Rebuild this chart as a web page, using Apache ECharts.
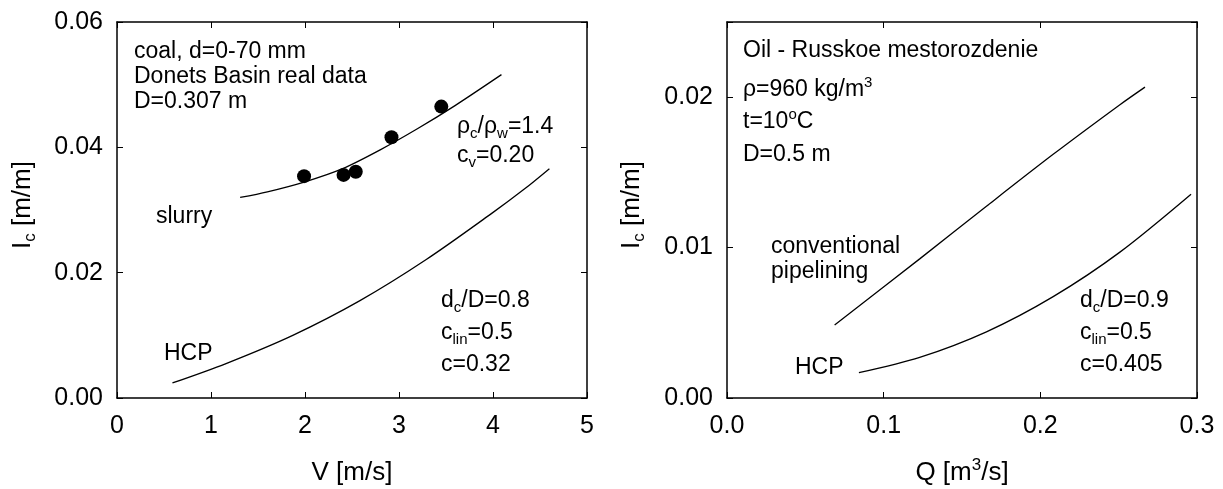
<!DOCTYPE html>
<html><head><meta charset="utf-8">
<script src="https://cdn.jsdelivr.net/npm/echarts@6.0.0/dist/echarts.min.js"></script>
<style>html,body{margin:0;padding:0;background:#fff}#c{width:1223px;height:489px}</style>
</head><body><div id="c"></div>
<script>
// ---- data ----
const slurryV = [1.31, 1.6, 2.0, 2.4, 2.8, 3.2, 3.6, 4.09];
const slurryI = [0.0320, 0.0329, 0.0345, 0.0366, 0.0396, 0.0430, 0.0467, 0.0516];
const hcpLeftV = [0.59, 1.16, 1.87, 2.58, 3.29, 3.99, 4.33, 4.6];
const hcpLeftI = [0.0024, 0.0055, 0.0100, 0.0155, 0.0221, 0.0295, 0.0333, 0.0366];
const measV = [1.99, 2.41, 2.54, 2.92, 3.45];
const measI = [0.0354, 0.0356, 0.0361, 0.0416, 0.0465];
const convQ = [0.0687, 0.123, 0.1656, 0.2082, 0.2508, 0.2668];
const convI = [0.00486, 0.00925, 0.01275, 0.01620, 0.01950, 0.02067];
const hcpRightQ = [0.0842, 0.123, 0.1656, 0.2082, 0.2508, 0.2962];
const hcpRightI = [0.00168, 0.0027, 0.0044, 0.00674, 0.0097, 0.01355];

const FONT = '"Liberation Sans", Arial, sans-serif';
const zip = (a, b) => a.map((v, i) => [v, b[i]]);

const chart = echarts.init(document.getElementById('c'), null, {renderer: 'canvas'});

function axis(gridIndex, position, min, max, interval, showLabel, fmt, isY) {
  return {
    type: 'value', gridIndex, position, min, max, interval,
    axisLine: {show: true, onZero: false, lineStyle: {color: '#000', width: 1.5}},
    axisTick: {show: true, inside: true, length: 6, lineStyle: {color: '#000', width: 1}},
    axisLabel: {show: showLabel, formatter: fmt, color: '#000', fontSize: 25, fontFamily: FONT,
                margin: isY ? 14 : 16, showMinLabel: true, showMaxLabel: true, hideOverlap: false},
    splitLine: {show: false}
  };
}

const fmtInt = v => String(Math.round(v));
const fmt2 = v => v.toFixed(2);
const fmt1 = v => v.toFixed(1);
const fmtR = v => (v > 0.021 ? '' : v.toFixed(2));

const richStyles = {
  n: {fontSize: 23, fontFamily: FONT, color: '#000', verticalAlign: 'middle'},
  s: {fontSize: 15, fontFamily: FONT, color: '#000', verticalAlign: 'middle', padding: [14, 0, 0, 0]},
  p: {fontSize: 15, fontFamily: FONT, color: '#000', verticalAlign: 'middle', padding: [0, 0, 14, 0]},
  t: {fontSize: 26, fontFamily: FONT, color: '#000', verticalAlign: 'middle'},
  ts: {fontSize: 17, fontFamily: FONT, color: '#000', verticalAlign: 'middle', padding: [14, 0, 0, 0]},
  tp: {fontSize: 17, fontFamily: FONT, color: '#000', verticalAlign: 'middle', padding: [0, 0, 16, 0]}
};

function txt(x, y, text, opt) {
  opt = opt || {};
  return {
    type: 'text', x, y, rotation: opt.rot || 0, silent: true,
    style: {
      text, fill: '#000', fontSize: opt.size || 23, fontFamily: FONT,
      textAlign: opt.align || 'left', align: opt.align || 'left',
      textVerticalAlign: 'middle', verticalAlign: 'middle',
      rich: richStyles
    }
  };
}

const labels = [
  txt(134, 52, '{n|coal, d=0-70 mm}'),
  txt(134, 77, '{n|Donets Basin real data}'),
  txt(134, 102, '{n|D=0.307 m}'),
  txt(156, 217, '{n|slurry}'),
  txt(457, 127, '{n|ρ}{s|c}{n|/ρ}{s|w}{n|=1.4}'),
  txt(457, 156, '{n|c}{s|v}{n|=0.20}'),
  txt(441, 301, '{n|d}{s|c}{n|/D=0.8}'),
  txt(441, 333, '{n|c}{s|lin}{n|=0.5}'),
  txt(441, 365, '{n|c=0.32}'),
  txt(164, 354, '{n|HCP}'),
  txt(743, 51, '{n|Oil - Russkoe mestorozdenie}'),
  txt(743, 90, '{n|ρ=960 kg/m}{p|3}'),
  txt(743, 122, '{n|t=10}{p|o}{n|C}'),
  txt(743, 155, '{n|D=0.5 m}'),
  txt(771, 247, '{n|conventional}'),
  txt(771, 272, '{n|pipelining}'),
  txt(795, 368, '{n|HCP}'),
  txt(1080, 301, '{n|d}{s|c}{n|/D=0.9}'),
  txt(1080, 333, '{n|c}{s|lin}{n|=0.5}'),
  txt(1080, 365, '{n|c=0.405}'),
  // axis titles
  txt(352, 473, '{t|V [m/s]}', {align: 'center'}),
  txt(962, 473, '{t|Q [m}{tp|3}{t|/s]}', {align: 'center'}),
  txt(23, 205, '{t|I}{ts|c}{t| [m/m]}', {align: 'center', rot: Math.PI / 2}),
  txt(632, 205, '{t|I}{ts|c}{t| [m/m]}', {align: 'center', rot: Math.PI / 2})
];

const lineStyle = {color: '#000', width: 1.3};
function curve(xi, yi, data) {
  return {type: 'line', xAxisIndex: xi, yAxisIndex: yi, data, smooth: 0.3,
          symbol: 'none', showSymbol: false, lineStyle, silent: true, z: 3};
}

chart.setOption({
  animation: false,
  backgroundColor: '#fff',
  grid: [
    {left: 117, top: 22, width: 470, height: 376, outerBoundsMode: 'none', containLabel: false},
    {left: 727, top: 22, width: 470, height: 376, outerBoundsMode: 'none', containLabel: false}
  ],
  xAxis: [
    axis(0, 'bottom', 0, 5, 1, true, fmtInt, false),
    axis(0, 'top', 0, 5, 1, false, fmtInt, false),
    axis(1, 'bottom', 0, 0.3, 0.1, true, fmt1, false),
    axis(1, 'top', 0, 0.3, 0.1, false, fmt1, false)
  ],
  yAxis: [
    axis(0, 'left', 0, 0.06, 0.02, true, fmt2, true),
    axis(0, 'right', 0, 0.06, 0.02, false, fmt2, true),
    axis(1, 'left', 0, 0.025, 0.01, true, fmtR, true),
    axis(1, 'right', 0, 0.025, 0.01, false, fmtR, true)
  ],
  series: [
    curve(0, 0, zip(slurryV, slurryI)),
    curve(0, 0, zip(hcpLeftV, hcpLeftI)),
    {type: 'scatter', xAxisIndex: 0, yAxisIndex: 0, data: zip(measV, measI), symbol: 'circle',
     symbolSize: 14, itemStyle: {color: '#000', opacity: 1, borderWidth: 0}, silent: true, z: 4},
    curve(2, 2, zip(convQ, convI)),
    curve(2, 2, zip(hcpRightQ, hcpRightI))
  ],
  graphic: {elements: labels}
});
</script></body></html>
